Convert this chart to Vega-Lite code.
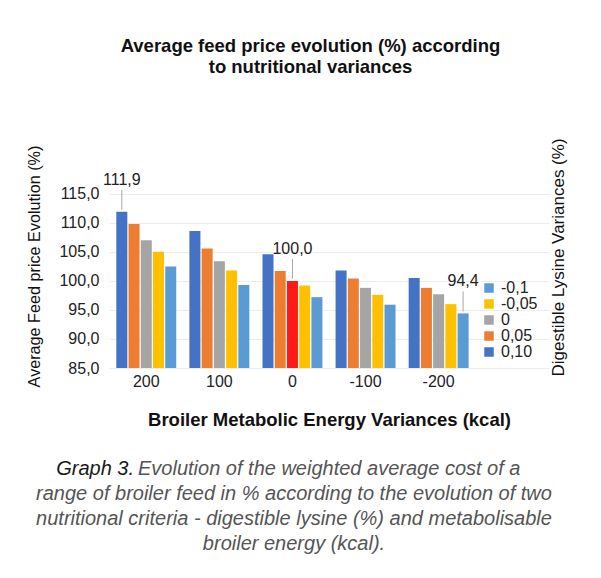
{
  "$schema": "https://vega.github.io/schema/vega-lite/v6.json",
  "background": "white",
  "padding": {"left": 26, "right": 4, "top": 37, "bottom": 5},
  "title": {
    "text": ["Average feed price evolution (%) according", "to nutritional variances"],
    "fontSize": 18.5,
    "fontWeight": "bold",
    "color": "#111111",
    "lineHeight": 21,
    "anchor": "middle",
    "dx": 14,
    "offset": 61
  },
  "datasets": {
    "feed": [
      {"energy": "200", "lysine": "0,10", "value": 111.9},
      {"energy": "200", "lysine": "0,05", "value": 109.8},
      {"energy": "200", "lysine": "0", "value": 107.0},
      {"energy": "200", "lysine": "-0,05", "value": 105.0},
      {"energy": "200", "lysine": "-0,1", "value": 102.5},
      {"energy": "100", "lysine": "0,10", "value": 108.6},
      {"energy": "100", "lysine": "0,05", "value": 105.6},
      {"energy": "100", "lysine": "0", "value": 103.4},
      {"energy": "100", "lysine": "-0,05", "value": 101.8},
      {"energy": "100", "lysine": "-0,1", "value": 99.3},
      {"energy": "0", "lysine": "0,10", "value": 104.6},
      {"energy": "0", "lysine": "0,05", "value": 101.7},
      {"energy": "0", "lysine": "0", "value": 100.0},
      {"energy": "0", "lysine": "-0,05", "value": 99.2},
      {"energy": "0", "lysine": "-0,1", "value": 97.2},
      {"energy": "-100", "lysine": "0,10", "value": 101.8},
      {"energy": "-100", "lysine": "0,05", "value": 100.4},
      {"energy": "-100", "lysine": "0", "value": 98.8},
      {"energy": "-100", "lysine": "-0,05", "value": 97.6},
      {"energy": "-100", "lysine": "-0,1", "value": 95.9},
      {"energy": "-200", "lysine": "0,10", "value": 100.5},
      {"energy": "-200", "lysine": "0,05", "value": 98.8},
      {"energy": "-200", "lysine": "0", "value": 97.7},
      {"energy": "-200", "lysine": "-0,05", "value": 96.0},
      {"energy": "-200", "lysine": "-0,1", "value": 94.4}
    ],
    "caption": [
      {"line": 1, "lead": "Graph 3.", "text": "Evolution of the weighted average cost of a"},
      {"line": 2, "lead": "", "text": "range of broiler feed in % according to the evolution of two"},
      {"line": 3, "lead": "", "text": "nutritional criteria - digestible lysine (%) and metabolisable"},
      {"line": 4, "lead": "", "text": "broiler energy (kcal)."}
    ]
  },
  "spacing": 27,
  "vconcat": [
    {
      "width": 440,
      "height": 180,
      "data": {"name": "feed"},
      "transform": [
        {"calculate": "replace(format(datum.value, '.1f'), '.', ',')", "as": "label"}
      ],
      "encoding": {
        "x": {
          "field": "energy",
          "type": "nominal",
          "scale": {"domain": ["200", "100", "0", "-100", "-200", " "], "paddingInner": 0.18, "paddingOuter": 0.1},
          "axis": {
            "title": "Broiler Metabolic Energy Variances (kcal)",
            "titleFontSize": 18.5,
            "titleFontWeight": "bold",
            "titleColor": "#111111",
            "titlePadding": 21,
            "labelAngle": 0,
            "labelFontSize": 16,
            "labelColor": "#222222",
            "labelPadding": 5,
            "ticks": false,
            "domain": false
          }
        },
        "xOffset": {
          "field": "lysine",
          "sort": ["0,10", "0,05", "0", "-0,05", "-0,1"],
          "scale": {"paddingInner": 0.1}
        }
      },
      "layer": [
        {
          "encoding": {
            "y": {
              "field": "value",
              "type": "quantitative",
              "scale": {"domain": [85, 116], "zero": false, "nice": false},
              "axis": {
                "values": [85, 90, 95, 100, 105, 110, 115],
                "labelExpr": "replace(format(datum.value, '.1f'), '.', ',')",
                "title": "Average Feed price Evolution (%)",
                "titleFontSize": 16.2,
                "titleFontWeight": "normal",
                "titleColor": "#111111",
                "titlePadding": 16,
                "titleY": 78,
                "labelFontSize": 16,
                "labelColor": "#222222",
                "labelPadding": 10,
                "ticks": false,
                "domain": false,
                "gridColor": "#ededed"
              }
            }
          },
          "layer": [
            {
              "mark": {"type": "bar"},
              "encoding": {
                "y2": {"datum": 85},
                "color": {
                  "condition": {"test": "datum.energy === '0' && datum.lysine === '0'", "value": "#FF1A1A"},
                  "field": "lysine",
                  "type": "nominal",
                  "scale": {
                    "domain": ["-0,1", "-0,05", "0", "0,05", "0,10"],
                    "range": ["#5B9BD5", "#FFC000", "#A5A5A5", "#ED7D31", "#4472C4"]
                  },
                  "legend": {
                    "title": null,
                    "orient": "none",
                    "legendX": 372,
                    "legendY": 92,
                    "labelFontSize": 16,
                    "labelColor": "#222222",
                    "symbolType": "square",
                    "symbolSize": 90,
                    "symbolStrokeWidth": 0,
                    "rowPadding": 0
                  }
                }
              }
            },
            {
              "transform": [
                {"filter": "(datum.energy === '200' && datum.lysine === '0,10') || (datum.energy === '0' && datum.lysine === '0') || (datum.energy === '-200' && datum.lysine === '-0,1')"}
              ],
              "mark": {"type": "rule", "color": "#a6a6a6", "strokeWidth": 1, "yOffset": -2, "y2Offset": -22},
              "encoding": {
                "y2": {"field": "value"}
              }
            },
            {
              "transform": [
                {"filter": "(datum.energy === '200' && datum.lysine === '0,10') || (datum.energy === '0' && datum.lysine === '0') || (datum.energy === '-200' && datum.lysine === '-0,1')"}
              ],
              "mark": {"type": "text", "dy": -32, "fontSize": 16, "color": "#222222"},
              "encoding": {
                "text": {"field": "label"}
              }
            }
          ]
        },
        {
          "mark": {"type": "rule", "opacity": 0},
          "encoding": {
            "y": {
              "datum": 0,
              "type": "quantitative",
              "scale": {"domain": [0, 1]},
              "axis": {
                "orient": "right",
                "title": "Digestible Lysine Variances (%)",
                "titleFontSize": 17,
                "titleFontWeight": "normal",
                "titleColor": "#111111",
                "titleAngle": 270,
                "titlePadding": 18,
                "titleY": 69,
                "labels": false,
                "ticks": false,
                "domain": false,
                "grid": false
              }
            }
          }
        }
      ],
      "resolve": {"scale": {"y": "independent"}, "axis": {"y": "independent"}}
    },
    {
      "width": 370,
      "height": 100,
      "data": {"name": "caption"},
      "encoding": {
        "y": {"field": "line", "type": "ordinal", "axis": null}
      },
      "layer": [
        {
          "transform": [{"filter": "datum.line > 1"}],
          "mark": {"type": "text", "fontStyle": "italic", "fontSize": 20, "color": "#555555"},
          "encoding": {"text": {"field": "text"}}
        },
        {
          "transform": [{"filter": "datum.line === 1"}],
          "mark": {"type": "text", "align": "left", "dx": -156, "fontStyle": "italic", "fontSize": 20, "color": "#555555"},
          "encoding": {"text": {"field": "text"}}
        },
        {
          "transform": [{"filter": "datum.line === 1"}],
          "mark": {"type": "text", "align": "right", "dx": -160, "fontStyle": "italic", "fontSize": 20, "color": "#1a1a1a"},
          "encoding": {"text": {"field": "lead"}}
        }
      ]
    }
  ],
  "config": {
    "font": "Liberation Sans",
    "view": {"stroke": null}
  }
}
